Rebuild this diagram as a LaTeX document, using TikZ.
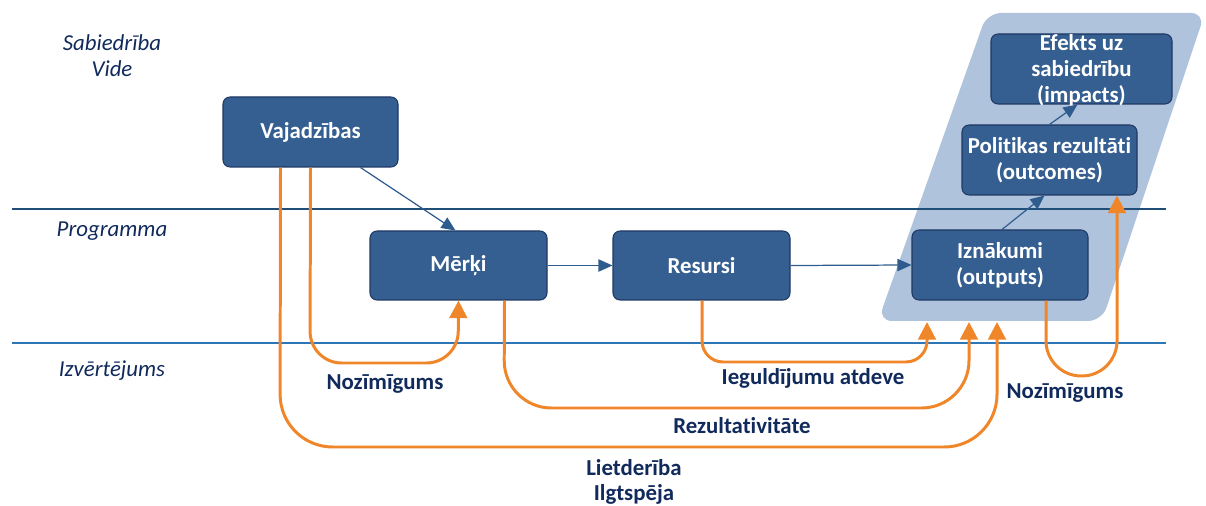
\documentclass[tikz,border=0pt]{standalone}
\usepackage{fontspec}
\setmainfont[Ligatures=NoCommon]{Carlito}
\usetikzlibrary{arrows.meta,calc}
\definecolor{boxblue}{HTML}{365F91}
\definecolor{boxedge}{HTML}{1F3864}
\definecolor{panel}{HTML}{B0C3DC}
\definecolor{navy}{HTML}{112A5C}
\definecolor{linkblue}{HTML}{2F5C8F}
\definecolor{rule1}{HTML}{1F4E79}
\definecolor{rule2}{HTML}{2E75B6}
\definecolor{orng}{HTML}{F0862A}
\tikzset{
  x=0.02cm, y=-0.02cm,
  stagebox/.style={fill=boxblue, draw=boxedge, line width=0.6pt, rounded corners=4pt,
    text=white, font=\bfseries\fontsize{13}{14.7}\selectfont, align=center,
    inner sep=0pt},
  boxtext/.style={text=white, font=\bfseries\fontsize{13}{14.7}\selectfont, align=center, inner sep=0pt},
  sidelabel/.style={text=navy, font=\itshape\fontsize{13}{14.7}\selectfont, align=center, inner sep=0pt},
  evallabel/.style={text=navy, font=\bfseries\fontsize{13}{14.7}\selectfont, align=center, inner sep=0pt},
  bluearrow/.style={draw=linkblue, line width=0.7pt, -{Triangle[length=8pt,width=7pt]}},
  orangearrow/.style={draw=orng, line width=1.7pt, -{Triangle[length=10pt,width=10pt]}},
}
\begin{document}
\begin{tikzpicture}
\useasboundingbox (0,0) rectangle (1206,506);
% panel
\fill[panel, rounded corners=8pt] (987,13) -- (1205,13) -- (1102,321) -- (878,321) -- cycle;
% rules
\draw[rule1, line width=0.6pt] (12,209) -- (1166,209);
\draw[rule2, line width=0.6pt] (12,343) -- (1166,343);
% side labels
\node[sidelabel] (soc) at (112,56) {Sabiedrība\\Vide};
\node[sidelabel] (prog) at (112,231) {Programma};
\node[sidelabel] (eval) at (112,371) {Izvērtējums};
% boxes
\node[stagebox, minimum width=175*0.02cm, minimum height=70*0.02cm] (vaj) at (310.5,132) {Vajadzības};
\node[stagebox, minimum width=177*0.02cm, minimum height=69*0.02cm] (mer) at (458.5,265.5) {Mērķi};
\node[stagebox, minimum width=177*0.02cm, minimum height=69*0.02cm] (res) at (701.5,265.5) {Resursi};
\node[stagebox, minimum width=176*0.02cm, minimum height=70*0.02cm] (izn) at (1000,265) {Iznākumi\\(outputs)};
\node[stagebox, minimum width=175*0.02cm, minimum height=70*0.02cm] (pol) at (1049.5,160) {Politikas rezultāti\\(outcomes)};
\node[stagebox, minimum width=181*0.02cm, minimum height=70*0.02cm] (eff) at (1081.5,69) {};
\node[boxtext] (efftxt) at (1081.5,70) {Efekts uz\\sabiedrību\\(impacts)};
% blue links
\draw[bluearrow] ($(vaj.south)+(50,0)$) -- ($(mer.north)+(-3,0)$);
\draw[bluearrow] (mer.east) -- (res.west);
\draw[bluearrow] (res.east) -- (izn.west);
\draw[bluearrow] ($(izn.north)+(2,0)$) -- ($(pol.south)+(-5,0)$);
\draw[bluearrow] ($(pol.north)+(0,0)$) -- ($(eff.south)+(-4,0)$);
% orange evaluation links
\coordinate (t2) at (997,322);
\coordinate (t3) at (969,322);
\coordinate (t4) at (927,322);
\draw[orangearrow, rounded corners=18pt] ($(vaj.south)+(0,0)$) -- (310,363) -- (458,363) -- (mer.south);
\draw[orangearrow, rounded corners=30pt] ($(vaj.south)+(-30,0)$) -- (280,447) -- (997,447) -- (t2);
\draw[orangearrow, rounded corners=27pt] ($(mer.south)+(46,0)$) -- (504,408) -- (969,408) -- (t3);
\draw[orangearrow, rounded corners=12pt] ($(res.south)+(0.5,0)$) -- (702,362) -- (927,362) -- (t4);
\draw[orangearrow, rounded corners=20pt] ($(izn.south)+(46,0)$) -- (1046,376) -- (1117,376) -- ($(pol.south)+(67.5,0)$);
% evaluation labels
\node[evallabel] (noz1) at (385,384) {Nozīmīgums};
\node[evallabel] (ieg) at (813,378) {Ieguldījumu atdeve};
\node[evallabel] (rez) at (742,426) {Rezultativitāte};
\node[evallabel] (liet) at (634,482) {Lietderība\\Ilgtspēja};
\node[evallabel] (noz2) at (1065,393) {Nozīmīgums};
\end{tikzpicture}
\end{document}
